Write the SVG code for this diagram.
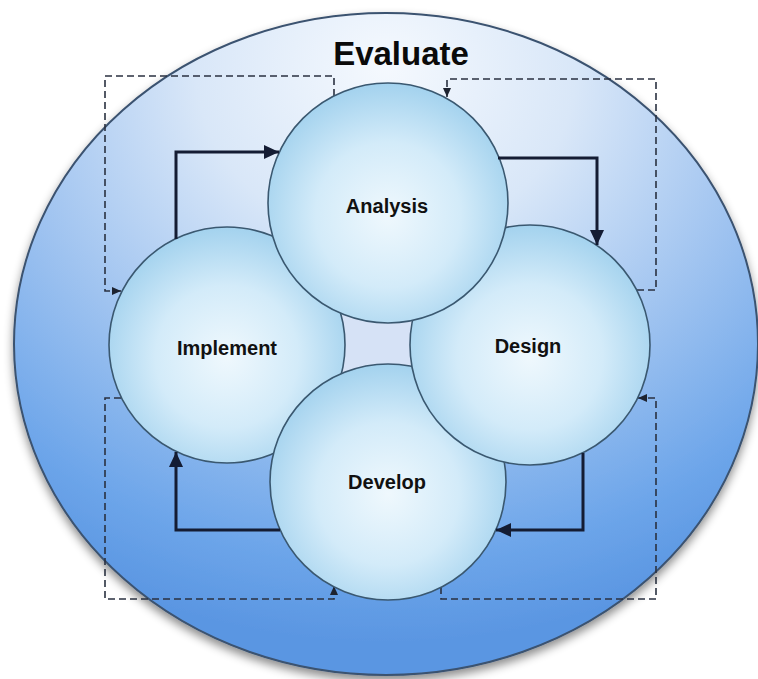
<svg xmlns="http://www.w3.org/2000/svg" width="758" height="679" viewBox="0 0 758 679">
<defs>
<radialGradient id="gOuter" cx="0.5" cy="0.1" r="0.85" fx="0.5" fy="0.08">
<stop offset="0" stop-color="#f5f9fe"/>
<stop offset="0.3" stop-color="#d9e7f8"/>
<stop offset="0.6" stop-color="#9fc3f0"/>
<stop offset="0.85" stop-color="#6ea6ea"/>
<stop offset="1" stop-color="#5a96e2"/>
</radialGradient>
<radialGradient id="gCircle" cx="0.5" cy="0.55" r="0.55">
<stop offset="0" stop-color="#eff8fd"/>
<stop offset="0.55" stop-color="#d3ebf9"/>
<stop offset="1" stop-color="#a3d2ee"/>
</radialGradient>
<filter id="shadow" x="-10%" y="-10%" width="120%" height="125%">
<feDropShadow dx="0" dy="5" stdDeviation="5" flood-color="#000" flood-opacity="0.45"/>
</filter>
<marker id="solidHead" markerUnits="userSpaceOnUse" markerWidth="16" markerHeight="16" refX="15" refY="8" orient="auto">
<path d="M0,1 L15,8 L0,15 Z" fill="#141c33"/>
</marker>
<marker id="dashHead" markerUnits="userSpaceOnUse" markerWidth="10" markerHeight="10" refX="9" refY="5" orient="auto">
<path d="M0,1 L9,5 L0,9 Z" fill="#1d2330"/>
</marker>
<style>
.circle { fill: url(#gCircle); stroke: #3a5870; stroke-width: 1.6; }
.label { font-family: "Liberation Sans", Arial, sans-serif; font-weight: bold; font-size: 20px; fill: #111; text-anchor: middle; }
.title { font-family: "Liberation Sans", Arial, sans-serif; font-weight: bold; font-size: 33px; fill: #0a0a0a; text-anchor: middle; }
.solid { fill: none; stroke: #141c33; stroke-width: 3; marker-end: url(#solidHead); }
.dashed { fill: none; stroke: #2a3140; stroke-width: 1.6; stroke-dasharray: 7 4; marker-end: url(#dashHead); }
</style>
</defs>
<rect width="758" height="679" fill="#ffffff"/>
<g id="evaluate">
<ellipse cx="386" cy="344" rx="372" ry="331" fill="url(#gOuter)" stroke="#3b5270" stroke-width="2" filter="url(#shadow)"/>
<text class="title" x="401" y="65">Evaluate</text>
</g>
<rect x="330" y="300" width="95" height="85" fill="#d6e2f6"/>
<g id="connectors">
<path class="dashed" d="M334,96 V76 H105 V291 H121"/>
<path class="dashed" d="M637,290 H656 V79 H447 V97"/>
<path class="dashed" d="M441,587 V599 H656 V398 H638"/>
<path class="dashed" d="M121,398 H105 V599 H334 V586"/>
</g>
<g id="implement">
<circle class="circle" cx="227" cy="345" r="118"/>
<text class="label" x="227" y="355">Implement</text>
</g>
<g id="develop">
<circle class="circle" cx="388" cy="482" r="118"/>
<text class="label" x="387" y="489">Develop</text>
</g>
<g id="design">
<circle class="circle" cx="530" cy="345" r="120"/>
<text class="label" x="528" y="353">Design</text>
</g>
<g id="analysis">
<circle class="circle" cx="388" cy="203" r="120"/>
<text class="label" x="387" y="213">Analysis</text>
</g>
<g id="cycle-arrows">
<path class="solid" d="M176,239 V152 H279"/>
<path class="solid" d="M498,158 H597 V245"/>
<path class="solid" d="M583,453 V530 H496"/>
<path class="solid" d="M280,530 H176 V452"/>
</g>
</svg>
